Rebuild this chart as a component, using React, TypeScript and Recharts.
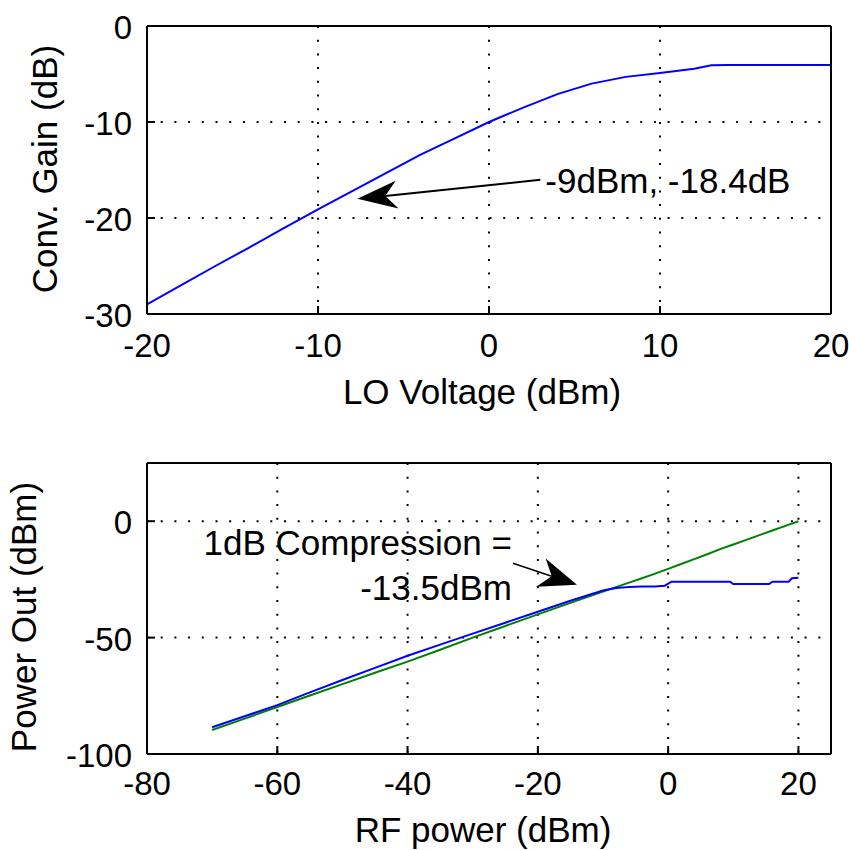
import React from 'react';
import { LineChart, Line, XAxis, YAxis, CartesianGrid, ReferenceDot, Label } from 'recharts';

const FONT = '"Liberation Sans", Arial, Helvetica, sans-serif';

// ---------- Top subplot data ----------
const loVoltage = [-20, -18, -16, -14, -12, -10, -8, -6, -4, -2, 0, 2, 4, 6, 8, 10, 12, 13, 14, 16, 18, 20];
const convGain = [-29.0, -27.0, -25.0, -23.05, -21.05, -19.1, -17.2, -15.3, -13.4, -11.7, -10.0, -8.5, -7.1, -6.0, -5.3, -4.9, -4.45, -4.1, -4.05, -4.05, -4.05, -4.05];
const topXTicks = [-20, -10, 0, 10, 20];
const topYTicks = [-30, -20, -10, 0];

// ---------- Bottom subplot data ----------
const rfPowerGreen = [-70, -65, -60, -55, -50, -45, -40, -35, -30, -25, -20, -15, -10, -8, -6, -4, -2, 0, 2, 4, 6, 8, 10, 12, 14, 16, 18, 20];
const powerOutGreen = [-89.7, -84.8, -79.8, -74.9, -70.0, -65.1, -60.3, -55.2, -50.0, -45.0, -40.0, -35.1, -30.2, -28.3, -26.4, -24.5, -22.5, -20.5, -18.4, -16.3, -14.2, -12.0, -10.0, -8.0, -6.0, -4.0, -2.0, 0.0];
const rfPowerBlue = [-70, -65, -60, -55, -50, -45, -40, -35, -30, -25, -20, -15, -10, -8, -6, -4, -2, -0.5, 0.5, 9.5, 10, 15.5, 16, 18.5, 19, 20];
const powerOutBlue = [-88.5, -83.8, -79.0, -73.5, -68.2, -63.0, -57.8, -53.0, -48.3, -43.6, -38.9, -34.2, -29.8, -28.7, -28.3, -28.1, -28.0, -27.7, -26.0, -26.0, -27.0, -27.0, -26.0, -26.0, -24.5, -24.3];
const botXTicks = [-80, -60, -40, -20, 0, 20];
const botYTicks = [-100, -50, 0];

// ---------- Annotations ----------
const topAnnotation = { x: -7.7, y: -18.0, text: '-9dBm, -18.4dB' };
const botAnnotation = { x: -14, y: -27.3, lines: ['1dB Compression =', '-13.5dBm'] };

const topData = loVoltage.map((x, i) => ({ x, y: convGain[i] }));
const greenData = rfPowerGreen.map((x, i) => ({ x, y: powerOutGreen[i] }));
const blueData = rfPowerBlue.map((x, i) => ({ x, y: powerOutBlue[i] }));

const TICK_LEN = 8;

const makeXTick = (side: 'bottom' | 'top', labelDy: number) => (props: any) => {
  const { x, y, payload } = props;
  if (side === 'top') {
    return <line x1={x} y1={y} x2={x} y2={y + TICK_LEN} stroke="#000" strokeWidth={2} />;
  }
  return (
    <g>
      <line x1={x} y1={y} x2={x} y2={y - TICK_LEN} stroke="#000" strokeWidth={2} />
      <text x={x} y={y + labelDy} textAnchor="middle" fontSize={33} fontFamily={FONT} fill="#000">
        {payload.value}
      </text>
    </g>
  );
};

const makeYTick = (side: 'left' | 'right') => (props: any) => {
  const { x, y, payload } = props;
  if (side === 'right') {
    return <line x1={x} y1={y} x2={x - TICK_LEN} y2={y} stroke="#000" strokeWidth={2} />;
  }
  return (
    <g>
      <line x1={x} y1={y} x2={x + TICK_LEN} y2={y} stroke="#000" strokeWidth={2} />
      <text x={x - 15} y={y + 13} textAnchor="end" fontSize={33} fontFamily={FONT} fill="#000">
        {payload.value}
      </text>
    </g>
  );
};

const arrowHead = (cx: number, cy: number, dx: number, dy: number, L: number, W: number) => {
  const d = Math.hypot(dx, dy);
  const ux = dx / d;
  const uy = dy / d;
  const nx = -uy;
  const ny = ux;
  const p1 = `${cx},${cy}`;
  const p2 = `${cx + ux * L + nx * W},${cy + uy * L + ny * W}`;
  const p3 = `${cx + ux * L * 0.7},${cy + uy * L * 0.7}`;
  const p4 = `${cx + ux * L - nx * W},${cy + uy * L - ny * W}`;
  return { points: `${p1} ${p2} ${p3} ${p4}`, nx: cx + ux * L * 0.7, ny: cy + uy * L * 0.7 };
};

const TopArrow = (props: any) => {
  const { cx, cy } = props;
  const dx = 183;
  const dy = -19;
  const h = arrowHead(cx, cy, dx, dy, 40, 14);
  return (
    <g>
      <line x1={h.nx} y1={h.ny} x2={cx + dx} y2={cy + dy} stroke="#000" strokeWidth={2} />
      <polygon points={h.points} fill="#000" />
      <text x={cx + 188} y={cy - 6} fontSize={35} fontFamily={FONT} fill="#000">
        {topAnnotation.text}
      </text>
    </g>
  );
};

const BotArrow = (props: any) => {
  const { cx, cy } = props;
  const dx = -64;
  const dy = -21.5;
  const h = arrowHead(cx, cy, dx, dy, 38, 15);
  return (
    <g>
      <line x1={h.nx} y1={h.ny} x2={cx + dx} y2={cy + dy} stroke="#000" strokeWidth={1.5} />
      <polygon points={h.points} fill="#000" />
      <text x={cx - 65} y={cy - 30} textAnchor="end" fontSize={35} fontFamily={FONT} fill="#000">
        {botAnnotation.lines[0]}
      </text>
      <text x={cx - 65} y={cy + 15.5} textAnchor="end" fontSize={35} fontFamily={FONT} fill="#000">
        {botAnnotation.lines[1]}
      </text>
    </g>
  );
};

const yLabelContent = (text: string, cx: number, cy: number) => () => (
  <text
    x={cx}
    y={cy}
    transform={`rotate(-90, ${cx}, ${cy})`}
    textAnchor="middle"
    dy="0.355em"
    fontSize={35}
    fontFamily={FONT}
    fill="#000"
  >
    {text}
  </text>
);

const xLabelContent = (text: string, cx: number, cy: number) => () => (
  <text x={cx} y={cy} textAnchor="middle" dy="0.355em" fontSize={35} fontFamily={FONT} fill="#000">
    {text}
  </text>
);

export default function App() {
  return (
    <div style={{ position: 'absolute', left: 0, top: 0, width: 849, height: 850, background: '#fff' }}>
      <LineChart width={849} height={440} margin={{ top: 25, right: 17, bottom: 0, left: 0 }}>
        <CartesianGrid
          stroke="#000"
          strokeWidth={2}
          strokeDasharray="2 11.7"
          horizontalValues={topYTicks}
          verticalValues={topXTicks}
        />
        <XAxis
          dataKey="x"
          type="number"
          domain={[-20, 20]}
          ticks={topXTicks}
          height={126}
          tickSize={0}
          tickMargin={0}
          tickLine={false}
          axisLine={{ stroke: '#000', strokeWidth: 2 }}
          tick={makeXTick('bottom', 43)}
          interval={0}
          allowDataOverflow
        >
          <Label content={xLabelContent('LO Voltage (dBm)', 482, 392)} />
        </XAxis>
        <XAxis
          xAxisId="top"
          orientation="top"
          dataKey="x"
          type="number"
          domain={[-20, 20]}
          ticks={topXTicks}
          height={1}
          tickSize={0}
          tickMargin={0}
          tickLine={false}
          axisLine={{ stroke: '#000', strokeWidth: 2 }}
          tick={makeXTick('top', 0)}
          interval={0}
        />
        <YAxis
          type="number"
          domain={[-30, 0]}
          ticks={topYTicks}
          width={147}
          tickSize={0}
          tickMargin={0}
          tickLine={false}
          axisLine={{ stroke: '#000', strokeWidth: 2 }}
          tick={makeYTick('left')}
          interval={0}
        >
          <Label content={yLabelContent('Conv. Gain (dB)', 45, 169)} />
        </YAxis>
        <YAxis
          yAxisId="right"
          orientation="right"
          type="number"
          domain={[-30, 0]}
          ticks={topYTicks}
          width={1}
          tickSize={0}
          tickMargin={0}
          tickLine={false}
          axisLine={{ stroke: '#000', strokeWidth: 2 }}
          tick={makeYTick('right')}
          interval={0}
        />
        <Line
          data={topData}
          dataKey="y"
          type="linear"
          stroke="#0000ff"
          strokeWidth={2}
          dot={false}
          isAnimationActive={false}
        />
        <ReferenceDot x={topAnnotation.x} y={topAnnotation.y} r={0} ifOverflow="visible" shape={(p: any) => <TopArrow {...p} />} />
      </LineChart>

      <LineChart width={849} height={410} margin={{ top: 22, right: 17, bottom: 0, left: 0 }}>
        <CartesianGrid
          stroke="#000"
          strokeWidth={2}
          strokeDasharray="2 11.7"
          horizontalValues={botYTicks}
          verticalValues={botXTicks}
        />
        <XAxis
          dataKey="x"
          type="number"
          domain={[-80, 25]}
          ticks={botXTicks}
          height={96}
          tickSize={0}
          tickMargin={0}
          tickLine={false}
          axisLine={{ stroke: '#000', strokeWidth: 2 }}
          tick={makeXTick('bottom', 41)}
          interval={0}
          allowDataOverflow
        >
          <Label content={xLabelContent('RF power (dBm)', 483, 390)} />
        </XAxis>
        <XAxis
          xAxisId="top"
          orientation="top"
          dataKey="x"
          type="number"
          domain={[-80, 25]}
          ticks={botXTicks}
          height={1}
          tickSize={0}
          tickMargin={0}
          tickLine={false}
          axisLine={{ stroke: '#000', strokeWidth: 2 }}
          tick={makeXTick('top', 0)}
          interval={0}
        />
        <YAxis
          type="number"
          domain={[-100, 25]}
          ticks={botYTicks}
          width={147}
          tickSize={0}
          tickMargin={0}
          tickLine={false}
          axisLine={{ stroke: '#000', strokeWidth: 2 }}
          tick={makeYTick('left')}
          interval={0}
        >
          <Label content={yLabelContent('Power Out (dBm)', 24, 177)} />
        </YAxis>
        <YAxis
          yAxisId="right"
          orientation="right"
          type="number"
          domain={[-100, 25]}
          ticks={botYTicks}
          width={1}
          tickSize={0}
          tickMargin={0}
          tickLine={false}
          axisLine={{ stroke: '#000', strokeWidth: 2 }}
          tick={makeYTick('right')}
          interval={0}
        />
        <Line
          data={greenData}
          dataKey="y"
          type="linear"
          stroke="#008000"
          strokeWidth={2}
          dot={false}
          isAnimationActive={false}
        />
        <Line
          data={blueData}
          dataKey="y"
          type="linear"
          stroke="#0000ff"
          strokeWidth={2}
          dot={false}
          isAnimationActive={false}
        />
        <ReferenceDot x={botAnnotation.x} y={botAnnotation.y} r={0} ifOverflow="visible" shape={(p: any) => <BotArrow {...p} />} />
      </LineChart>
    </div>
  );
}
